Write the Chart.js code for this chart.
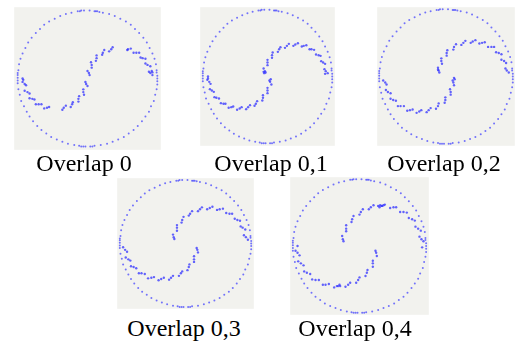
<!DOCTYPE html>
<html><head><meta charset="utf-8">
<script src="https://cdn.jsdelivr.net/npm/chart.js@4/dist/chart.umd.min.js"></script>
<style>
html,body{margin:0;padding:0;background:#fff;width:516px;height:345px;overflow:hidden;}
canvas{position:absolute;}
.lbl{position:absolute;font-family:"Liberation Serif","Times New Roman",serif;font-size:24px;line-height:24px;color:#000;white-space:nowrap;transform:translateX(-50%);}
</style></head>
<body>
<script>
// ---- data (unit circle coordinates) ----
const panelLabels = ["Overlap 0", "Overlap 0,1", "Overlap 0,2", "Overlap 0,3", "Overlap 0,4"];

const circlePts = [
[1.00,0.00],[1.00,0.04],[0.99,0.09],[0.99,0.12],[0.98,0.21],[0.96,0.29],[0.93,0.37],[0.89,0.45],[0.85,0.53],[0.80,0.60],[0.74,0.67],[0.68,0.73],[0.62,0.79],[0.55,0.84],[0.47,0.88],[0.39,0.92],[0.31,0.95],[0.22,0.97],[0.17,0.98],[0.14,0.99],[0.12,0.99],[0.10,0.99],[0.03,1.00],
[-0.05,1.00],[-0.09,1.00],[-0.11,0.99],[-0.14,0.99],[-0.23,0.97],[-0.31,0.95],[-0.39,0.92],[-0.47,0.88],[-0.55,0.84],[-0.62,0.79],[-0.68,0.73],[-0.74,0.67],[-0.80,0.60],[-0.85,0.53],[-0.89,0.45],[-0.93,0.37],[-0.96,0.29],[-0.98,0.21],[-0.99,0.12],[-1.00,0.08],[-1.00,0.05],
[-1.00,0.01],[-1.00,-0.03],[-1.00,-0.07],[-0.99,-0.16],[-0.97,-0.24],[-0.95,-0.33],[-0.91,-0.41],[-0.87,-0.49],[-0.83,-0.56],[-0.78,-0.63],[-0.72,-0.70],[-0.66,-0.76],[-0.59,-0.81],[-0.52,-0.86],[-0.44,-0.90],[-0.36,-0.93],[-0.28,-0.96],[-0.19,-0.98],[-0.12,-0.99],[-0.09,-1.00],[-0.06,-1.00],[-0.03,-1.00],
[0.04,-1.00],[0.07,-1.00],[0.10,-0.99],[0.19,-0.98],[0.28,-0.96],[0.36,-0.93],[0.44,-0.90],[0.52,-0.86],[0.59,-0.81],[0.66,-0.76],[0.72,-0.70],[0.78,-0.63],[0.83,-0.56],[0.88,-0.49],[0.91,-0.41],[0.95,-0.33],[0.97,-0.24],[0.99,-0.16],[1.00,-0.09],[1.00,-0.04]
];

const lower0 = [[-0.93,-0.05],[-0.88,-0.10],[-0.90,-0.18],[-0.83,-0.22],[-0.83,-0.29],[-0.76,-0.31],[-0.74,-0.38],[-0.66,-0.38],[-0.62,-0.44],[-0.55,-0.42],[-0.36,-0.46],[-0.31,-0.40],[-0.24,-0.42],[-0.21,-0.35],[-0.13,-0.34],[-0.12,-0.26],[-0.05,-0.24],[-0.06,-0.16],[0.00,-0.11],[-0.03,-0.05],
[-0.90,-0.08],[-0.86,-0.20],[-0.79,-0.30],[-0.70,-0.38],[-0.58,-0.43],[-0.34,-0.43],[-0.22,-0.38],[-0.13,-0.30],[-0.06,-0.20],[-0.02,-0.08],[-0.92,-0.02],[-0.93,0.00]];
const upper0 = [[0.93,0.05],[0.88,0.10],[0.90,0.18],[0.83,0.22],[0.83,0.29],[0.76,0.31],[0.74,0.38],[0.66,0.38],[0.62,0.44],[0.57,0.42],[0.36,0.46],[0.31,0.40],[0.24,0.42],[0.21,0.35],[0.13,0.34],[0.12,0.26],[0.05,0.24],[0.06,0.16],[0.00,0.11],[0.03,0.05],
[0.90,0.08],[0.86,0.20],[0.79,0.30],[0.70,0.38],[0.58,0.43],[0.34,0.43],[0.22,0.38],[0.13,0.30],[0.06,0.20],[0.02,0.08],[0.92,0.11],[0.93,0.09]];

const lower1 = [[-0.93,-0.05],[-0.88,-0.11],[-0.89,-0.19],[-0.83,-0.23],[-0.82,-0.31],[-0.75,-0.33],[-0.72,-0.40],[-0.65,-0.41],[-0.60,-0.47],[-0.53,-0.45],[-0.47,-0.50],[-0.40,-0.46],[-0.33,-0.49],[-0.27,-0.43],[-0.20,-0.44],[-0.16,-0.37],[-0.08,-0.36],[-0.07,-0.28],[0.00,-0.25],[0.00,-0.17],[0.06,-0.12],[0.03,-0.06],
[-0.90,-0.08],[-0.86,-0.21],[-0.79,-0.32],[-0.68,-0.41],[-0.56,-0.46],[-0.43,-0.48],[-0.30,-0.46],[-0.18,-0.41],[-0.07,-0.32],[0.00,-0.21],[0.04,-0.08],[-0.92,-0.03],[-0.92,0.00],[0.05,-0.04]];
const upper1 = [[0.93,0.05],[0.88,0.11],[0.89,0.19],[0.83,0.23],[0.82,0.31],[0.75,0.33],[0.72,0.40],[0.65,0.41],[0.60,0.47],[0.53,0.45],[0.47,0.50],[0.40,0.46],[0.33,0.49],[0.27,0.43],[0.20,0.44],[0.16,0.37],[0.08,0.36],[0.07,0.28],[0.00,0.25],[0.00,0.17],[-0.06,0.12],[-0.03,0.06],
[0.90,0.08],[0.86,0.21],[0.79,0.32],[0.68,0.41],[0.56,0.46],[0.43,0.48],[0.30,0.46],[0.18,0.41],[0.07,0.32],[0.00,0.21],[-0.04,0.08],[-0.05,0.05],[-0.06,0.07],[0.89,0.04]];

const lower2 = [[-0.94,-0.06],[-0.89,-0.12],[-0.90,-0.20],[-0.83,-0.25],[-0.83,-0.33],[-0.75,-0.36],[-0.72,-0.44],[-0.63,-0.44],[-0.58,-0.51],[-0.50,-0.49],[-0.44,-0.54],[-0.37,-0.50],[-0.29,-0.53],[-0.23,-0.47],[-0.15,-0.48],[-0.11,-0.40],[-0.02,-0.39],[-0.01,-0.31],[0.07,-0.27],[0.06,-0.19],[0.12,-0.13],[0.10,-0.06],
[-0.91,-0.09],[-0.87,-0.23],[-0.79,-0.35],[-0.68,-0.44],[-0.54,-0.50],[-0.40,-0.52],[-0.26,-0.50],[-0.12,-0.44],[-0.01,-0.35],[0.07,-0.23],[0.11,-0.09],[0.12,-0.02],[0.13,-0.04]];
const upper2 = [[0.94,0.06],[0.89,0.12],[0.90,0.20],[0.83,0.25],[0.83,0.33],[0.75,0.36],[0.72,0.44],[0.63,0.44],[0.58,0.51],[0.50,0.49],[0.44,0.54],[0.37,0.50],[0.29,0.53],[0.23,0.47],[0.15,0.48],[0.11,0.40],[0.02,0.39],[0.01,0.31],[-0.07,0.27],[-0.06,0.19],[-0.12,0.13],[-0.10,0.06],
[0.91,0.09],[0.87,0.23],[0.79,0.35],[0.68,0.44],[0.54,0.50],[0.40,0.52],[0.26,0.50],[0.12,0.44],[0.01,0.35],[-0.07,0.23],[-0.11,0.09],[-0.12,0.10]];

const lower3 = [[-0.95,-0.06],[-0.89,-0.13],[-0.91,-0.22],[-0.84,-0.27],[-0.83,-0.36],[-0.75,-0.39],[-0.71,-0.47],[-0.62,-0.48],[-0.57,-0.55],[-0.48,-0.53],[-0.41,-0.58],[-0.33,-0.54],[-0.25,-0.57],[-0.19,-0.51],[-0.10,-0.51],[-0.05,-0.44],[0.03,-0.42],[0.06,-0.33],[0.13,-0.29],[0.13,-0.20],[0.19,-0.14],[0.17,-0.07],
[-0.92,-0.10],[-0.87,-0.25],[-0.79,-0.37],[-0.67,-0.47],[-0.52,-0.54],[-0.37,-0.56],[-0.22,-0.54],[-0.07,-0.47],[0.05,-0.37],[0.13,-0.25],[0.18,-0.10]];
const upper3 = [[0.95,0.06],[0.89,0.13],[0.91,0.22],[0.84,0.27],[0.83,0.36],[0.75,0.39],[0.71,0.47],[0.62,0.48],[0.57,0.55],[0.48,0.53],[0.41,0.58],[0.33,0.54],[0.25,0.57],[0.19,0.51],[0.10,0.51],[0.05,0.44],[-0.03,0.42],[-0.06,0.33],[-0.13,0.29],[-0.13,0.20],[-0.19,0.14],[-0.17,0.07],
[0.92,0.10],[0.87,0.25],[0.79,0.37],[0.67,0.47],[0.52,0.54],[0.37,0.56],[0.22,0.54],[0.07,0.47],[-0.05,0.37],[-0.13,0.25],[-0.18,0.10]];

const lower4 = [[-0.96,-0.07],[-0.90,-0.14],[-0.92,-0.23],[-0.84,-0.29],[-0.83,-0.38],[-0.74,-0.42],[-0.71,-0.50],[-0.61,-0.51],[-0.55,-0.58],[-0.46,-0.57],[-0.38,-0.62],[-0.30,-0.58],[-0.21,-0.61],[-0.14,-0.55],[-0.05,-0.55],[0.00,-0.47],[0.09,-0.45],[0.12,-0.36],[0.20,-0.31],[0.20,-0.22],[0.26,-0.15],[0.24,-0.07],
[-0.93,-0.10],[-0.88,-0.26],[-0.79,-0.40],[-0.66,-0.51],[-0.51,-0.58],[-0.34,-0.60],[-0.17,-0.58],[-0.02,-0.51],[0.11,-0.40],[0.20,-0.26],[0.25,-0.10],[-0.93,0.00],[-0.32,-0.60],[-0.29,-0.60]];
const upper4 = [[0.96,0.07],[0.90,0.14],[0.92,0.23],[0.84,0.29],[0.83,0.38],[0.74,0.42],[0.71,0.50],[0.61,0.51],[0.55,0.58],[0.46,0.57],[0.38,0.62],[0.30,0.58],[0.21,0.61],[0.14,0.55],[0.05,0.55],[0.00,0.47],[-0.09,0.45],[-0.12,0.36],[-0.20,0.31],[-0.20,0.22],[-0.26,0.15],[-0.24,0.07],
[0.93,0.10],[0.88,0.26],[0.79,0.40],[0.66,0.51],[0.51,0.58],[0.34,0.60],[0.17,0.58],[0.02,0.51],[-0.11,0.40],[-0.20,0.26],[-0.25,0.10],[0.28,0.60],[0.31,0.61],[0.33,0.60],[0.36,0.61],[0.94,-0.02]];

const upperArms = [upper0, upper1, upper2, upper3, upper4];
const lowerArms = [lower0, lower1, lower2, lower3, lower4];

// ---- layout (pixel boxes of each panel) ----
const layoutBoxes = [
  {left:13, top:6, w:149, h:145, xr:1.05, yr:1.05, lx:84, ly:151},
  {left:199, top:6, w:137, h:141, xr:1.04, yr:1.04, lx:271, ly:151},
  {left:376, top:6, w:140, h:141, xr:1.03, yr:1.03, lx:444, ly:151},
  {left:116, top:177, w:139, h:133, xr:1.04, yr:1.03, lx:184, ly:316},
  {left:289, top:176, w:141, h:140, xr:1.04, yr:1.03, lx:355, ly:316}
];

const bgPlugin = {
  id: 'panelBg',
  beforeDraw(chart) {
    const {ctx, chartArea:a} = chart;
    ctx.save();
    ctx.fillStyle = '#f2f2ee';
    ctx.fillRect(a.left, a.top, a.right - a.left, a.bottom - a.top);
    ctx.restore();
  }
};

const toXY = arr => arr.map(p => ({x:p[0], y:p[1]}));
const circleColor = 'rgba(60,60,255,0.7)';
const armColor = 'rgba(50,50,255,0.75)';

layoutBoxes.forEach((b, i) => {
  const cv = document.createElement('canvas');
  cv.width = b.w; cv.height = b.h;
  cv.style.left = b.left + 'px'; cv.style.top = b.top + 'px';
  cv.style.width = b.w + 'px'; cv.style.height = b.h + 'px';
  document.body.appendChild(cv);
  const ds = (d, r, c) => ({data: toXY(d), pointRadius: r, pointBorderWidth: 0, backgroundColor: c, borderColor: c, pointHoverRadius: r});
  new Chart(cv, {
    type: 'scatter',
    data: { datasets: [ds(circlePts, 1.0, circleColor), ds(upperArms[i], 1.2, armColor), ds(lowerArms[i], 1.2, armColor)] },
    options: {
      responsive: false, animation: false, devicePixelRatio: 1,
      layout: {padding: 0},
      plugins: {legend: {display: false}, tooltip: {enabled: false}},
      scales: {
        x: {type: 'linear', display: false, min: -b.xr, max: b.xr},
        y: {type: 'linear', display: false, min: -b.yr, max: b.yr}
      }
    },
    plugins: [bgPlugin]
  });
  const lb = document.createElement('div');
  lb.className = 'lbl';
  lb.textContent = panelLabels[i];
  lb.style.left = b.lx + 'px'; lb.style.top = b.ly + 'px';
  document.body.appendChild(lb);
});
</script>
</body></html>
